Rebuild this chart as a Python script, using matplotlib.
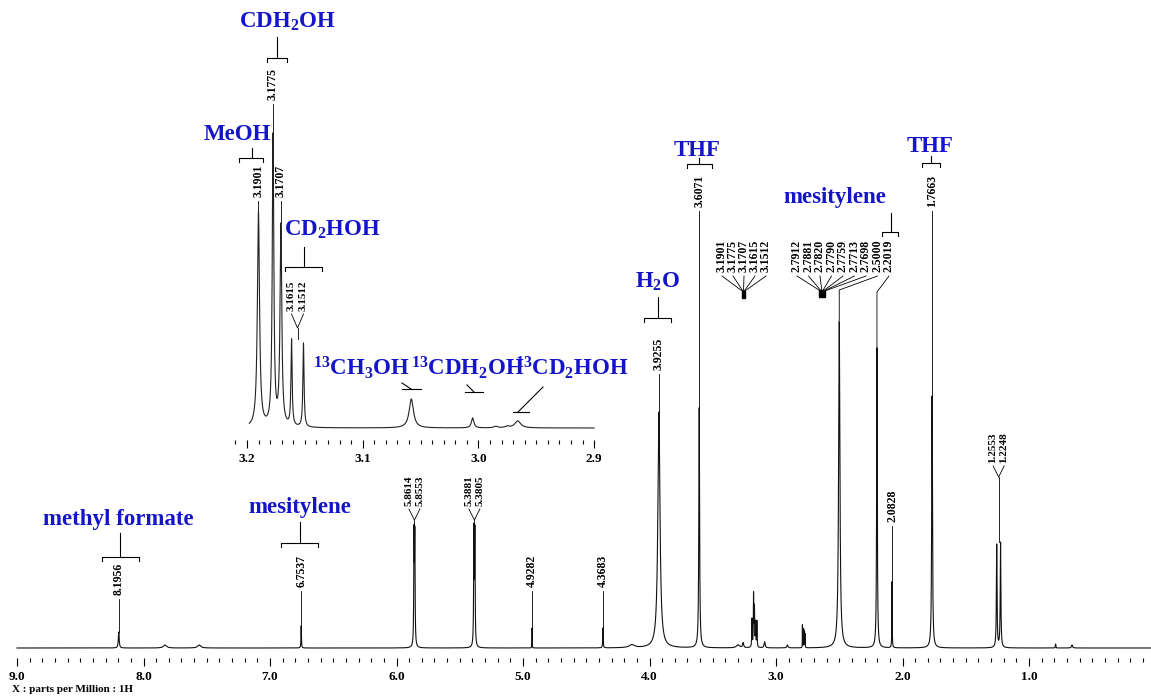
import numpy as np
import matplotlib.pyplot as plt
import matplotlib.transforms as mtransforms

plt.rcParams['font.family'] = ['Liberation Serif', 'DejaVu Serif']
plt.rcParams['font.weight'] = 'bold'
plt.rcParams['mathtext.fontset'] = 'custom'
plt.rcParams['mathtext.rm'] = 'Liberation Serif:bold'
plt.rcParams['mathtext.it'] = 'Liberation Serif:bold'
plt.rcParams['mathtext.bf'] = 'Liberation Serif:bold'

W, H = 1151, 698
BLUE = '#1414c8'

# full 1H spectrum: shift (ppm), peak height, line width (ppm)
shifts = [8.1956, 7.83, 7.56, 6.7537, 5.8614, 5.8553, 5.3881, 5.3805, 4.9282, 4.3683,
          4.14, 3.9255, 3.6071, 3.30, 3.26, 3.1901, 3.1775, 3.1707, 3.1615, 3.1512,
          3.09, 2.91, 2.7912, 2.7881, 2.7820, 2.7790, 2.7759, 2.7713, 2.7698, 2.5000,
          2.2019, 2.0828, 1.7663, 1.2553, 1.2248, 0.79, 0.66]
heights = [16, 3, 3, 22, 108, 106, 114, 112, 20, 20,
           3, 236, 240, 3, 5, 28, 52, 38, 24, 26,
           6, 3, 22, 16, 18, 13, 16, 12, 10, 326,
           300, 66, 252, 103, 105, 4, 3]
widths = [0.008, 0.03, 0.03, 0.004, 0.005, 0.005, 0.005, 0.005, 0.002, 0.004,
          0.05, 0.02, 0.007, 0.03, 0.01, 0.004, 0.004, 0.004, 0.004, 0.004,
          0.01, 0.01, 0.0015, 0.0015, 0.0015, 0.0015, 0.0015, 0.0015, 0.0015, 0.012,
          0.006, 0.003, 0.007, 0.006, 0.006, 0.004, 0.01]

# expanded methanol region, 3.2 - 2.9 ppm
ins_shifts = [3.1901, 3.1775, 3.1707, 3.1615, 3.1512, 3.058, 3.005, 2.966, 2.985, 2.975]
ins_heights = [215, 290, 200, 86, 84, 29, 10, 7, 1.5, 1.5]
ins_widths = [0.0022, 0.0016, 0.0018, 0.0012, 0.0012, 0.0045, 0.0025, 0.006, 0.004, 0.004]

# peak labels
main_single = [(8.1956, 595), (6.7537, 587), (4.9282, 587), (4.3683, 587),
               (3.9255, 370), (3.6071, 207), (1.7663, 207), (2.0828, 522)]
main_pairs = [(5.8614, 5.8553, 506, 520), (5.3881, 5.3805, 506, 520),
              (1.2553, 1.2248, 463, 477)]
meoh_fan = [3.1901, 3.1775, 3.1707, 3.1615, 3.1512]
ar_fan = [2.7912, 2.7881, 2.7820, 2.7790, 2.7759, 2.7713, 2.7698]
ins_single = [(3.1901, 197), (3.1775, 100), (3.1707, 197)]
ins_pairs = [(3.1615, 3.1512, 311, 328)]


def spectrum(x, pos, amp, fw):
    y = np.zeros_like(x, dtype=float)
    for p, a, w in zip(pos, amp, fw):
        g = (w / 2) ** 2
        y += a * g / ((x - p) ** 2 + g)
    return y


fig = plt.figure(figsize=(W / 100, H / 100), dpi=100)
fig.patch.set_facecolor('white')
# pixel coordinates, origin top-left
PX = mtransforms.Affine2D().scale(1 / W, -1 / H).translate(0, 1) + fig.transFigure

# main spectrum
ax = fig.add_axes([0, 40 / H, 1, 658 / H])
ax.set_xlim(9.0 + 17 / 126.5, 9.0 - 1134 / 126.5)
ax.set_ylim(-10, 648)
x = np.linspace(9.0, 0.036, 200001)
ax.plot(x, spectrum(x, shifts, heights, widths), color='#111111', lw=0.8)
ax.set_xticks(np.arange(1, 10))
ax.set_xticks([round(v, 1) for v in np.arange(0.1, 9.0, 0.1) if abs(v - round(v)) > 0.01],
              minor=True)
ax.xaxis.set_major_formatter('{x:.1f}')
ax.tick_params(axis='x', which='major', direction='out', length=6, width=0.8, pad=3,
               labelsize=9.5)
ax.tick_params(axis='x', which='minor', direction='out', length=3, width=0.8)
ax.set_yticks([])
for s in ax.spines.values():
    s.set_visible(False)

# inset
axi = fig.add_axes([200 / W, (H - 440) / H, 420 / W, 440 / H])
axi.patch.set_alpha(0)
axi.set_xlim(3.2 + 47 / 1157, 3.2 - 373 / 1157)
axi.set_ylim(-12, 428)
xi = np.linspace(3.198, 2.9, 8001)
axi.plot(xi, spectrum(xi, ins_shifts, ins_heights, ins_widths), color='#222222', lw=0.8)
axi.set_xticks([3.2, 3.1, 3.0, 2.9])
axi.set_xticks([round(3.21 - 0.01 * i, 2) for i in range(31) if i % 10 != 1], minor=True)
axi.xaxis.set_major_formatter('{x:.1f}')
axi.tick_params(axis='x', which='major', direction='out', length=6, width=0.8, pad=3,
                labelsize=9.5)
axi.tick_params(axis='x', which='minor', direction='out', length=3, width=0.8)
axi.set_yticks([])
for s in axi.spines.values():
    s.set_visible(False)


def to_px(a, xv, yv):
    xd, yd = a.transData.transform((xv, yv))
    return xd, H - yd


def top_px(a, p, pos, amp, fw):
    return to_px(a, p, spectrum(np.array([p]), pos, amp, fw)[0])


def line(pts, lw=0.6):
    xs, ys = zip(*pts)
    ax.plot(xs, ys, transform=PX, color='black', lw=lw, clip_on=False)


def num(xp, yb, val, size=8.5):
    ax.text(xp, yb, f'{val:.4f}', transform=PX, rotation=90, ha='center', va='bottom',
            fontsize=size, fontweight='bold', clip_on=False)


def bracket(xs, yt, yb, xl, xr):
    line([(xs, yt), (xs, yb)], lw=0.8)
    line([(xl, yb + 4), (xl, yb), (xr, yb), (xr, yb + 4)], lw=0.8)


def tag(xp, yp, s):
    ax.text(xp, yp, s, transform=PX, ha='center', va='center', color=BLUE,
            fontsize=16.5, fontweight='bold', clip_on=False)


def singles(a, items, pos, amp, fw):
    for p, yb in items:
        xp, yt = top_px(a, p, pos, amp, fw)
        num(xp, yb, p)
        if yt > yb + 5:
            line([(xp, yb + 4), (xp, yt)])


def pairs(a, items, pos, amp, fw, gap):
    for p1, p2, yb, yk in items:
        x1, t1 = top_px(a, p1, pos, amp, fw)
        x2, t2 = top_px(a, p2, pos, amp, fw)
        xm = (x1 + x2) / 2
        num(xm - gap, yb, p1, 8)
        num(xm + gap, yb, p2, 8)
        line([(xm - gap, yb + 3), (xm, yk), (xm + gap, yb + 3)])
        if max(t1, t2) > yk + 1:
            line([(xm, yk), (xm, min(t1, t2))])


singles(ax, main_single, shifts, heights, widths)
pairs(ax, main_pairs, shifts, heights, widths, 5.5)
singles(axi, ins_single, ins_shifts, ins_heights, ins_widths)
pairs(axi, ins_pairs, ins_shifts, ins_heights, ins_widths, 6)

# methanol multiplet fan
for i, p in enumerate(meoh_fan):
    xl = 722 + 11 * i
    num(xl, 272, p)
    line([(xl, 276), (743.5, 292)])
ax.add_patch(plt.Rectangle((742, 291), 3.5, 7, transform=PX, color='black', clip_on=False))

# 2.7 ppm multiplet fan, plus 2.5000 and 2.2019
for i, p in enumerate(ar_fan):
    xl = 797 + 11.5 * i
    num(xl, 272, p)
    line([(xl, 276), (822, 292)])
ax.add_patch(plt.Rectangle((819, 290), 6, 7, transform=PX, color='black', clip_on=False))
for p, xl, yk in [(2.5000, 877.5, 290), (2.2019, 889, 292)]:
    xp, yt = top_px(ax, p, shifts, heights, widths)
    num(xl, 272, p)
    line([(xl, 276), (xp, yk), (xp, yt)])

# assignments
tag(118, 519, 'methyl formate')
bracket(120, 533, 557, 102, 139)
tag(300, 508, 'mesitylene')
bracket(300, 522, 543, 281, 318)
tag(658, 282, r'H$_2$O')
bracket(658, 297, 318, 644, 671)
tag(697, 150, 'THF')
bracket(699, 158, 164, 687, 712)
tag(930, 146, 'THF')
bracket(931, 156, 163, 922, 940)
tag(835, 198, 'mesitylene')
bracket(891, 213, 232, 882, 898)

tag(287, 22, r'CDH$_2$OH')
bracket(277, 37, 58, 267, 287)
tag(237, 135, 'MeOH')
bracket(252, 148, 158, 239, 263)
tag(332, 230, r'CD$_2$HOH')
bracket(304, 247, 267, 285, 322)
tag(361, 368, r'$^{13}$CH$_3$OH')
line([(402, 383), (411, 389)], lw=0.8)
line([(402, 389), (421, 389)], lw=0.8)
tag(468, 368, r'$^{13}$CDH$_2$OH')
line([(467, 385), (474, 392)], lw=0.8)
line([(465, 392), (483, 392)], lw=0.8)
tag(572, 368, r'$^{13}$CD$_2$HOH')
line([(543, 387), (518, 412)], lw=0.8)
line([(513, 412), (529, 412)], lw=0.8)

fig.text(12 / W, 1 - 690 / H, 'X : parts per Million : 1H', fontsize=8,
         fontweight='bold', va='center', ha='left')

fig.savefig('out.png', dpi=100)
